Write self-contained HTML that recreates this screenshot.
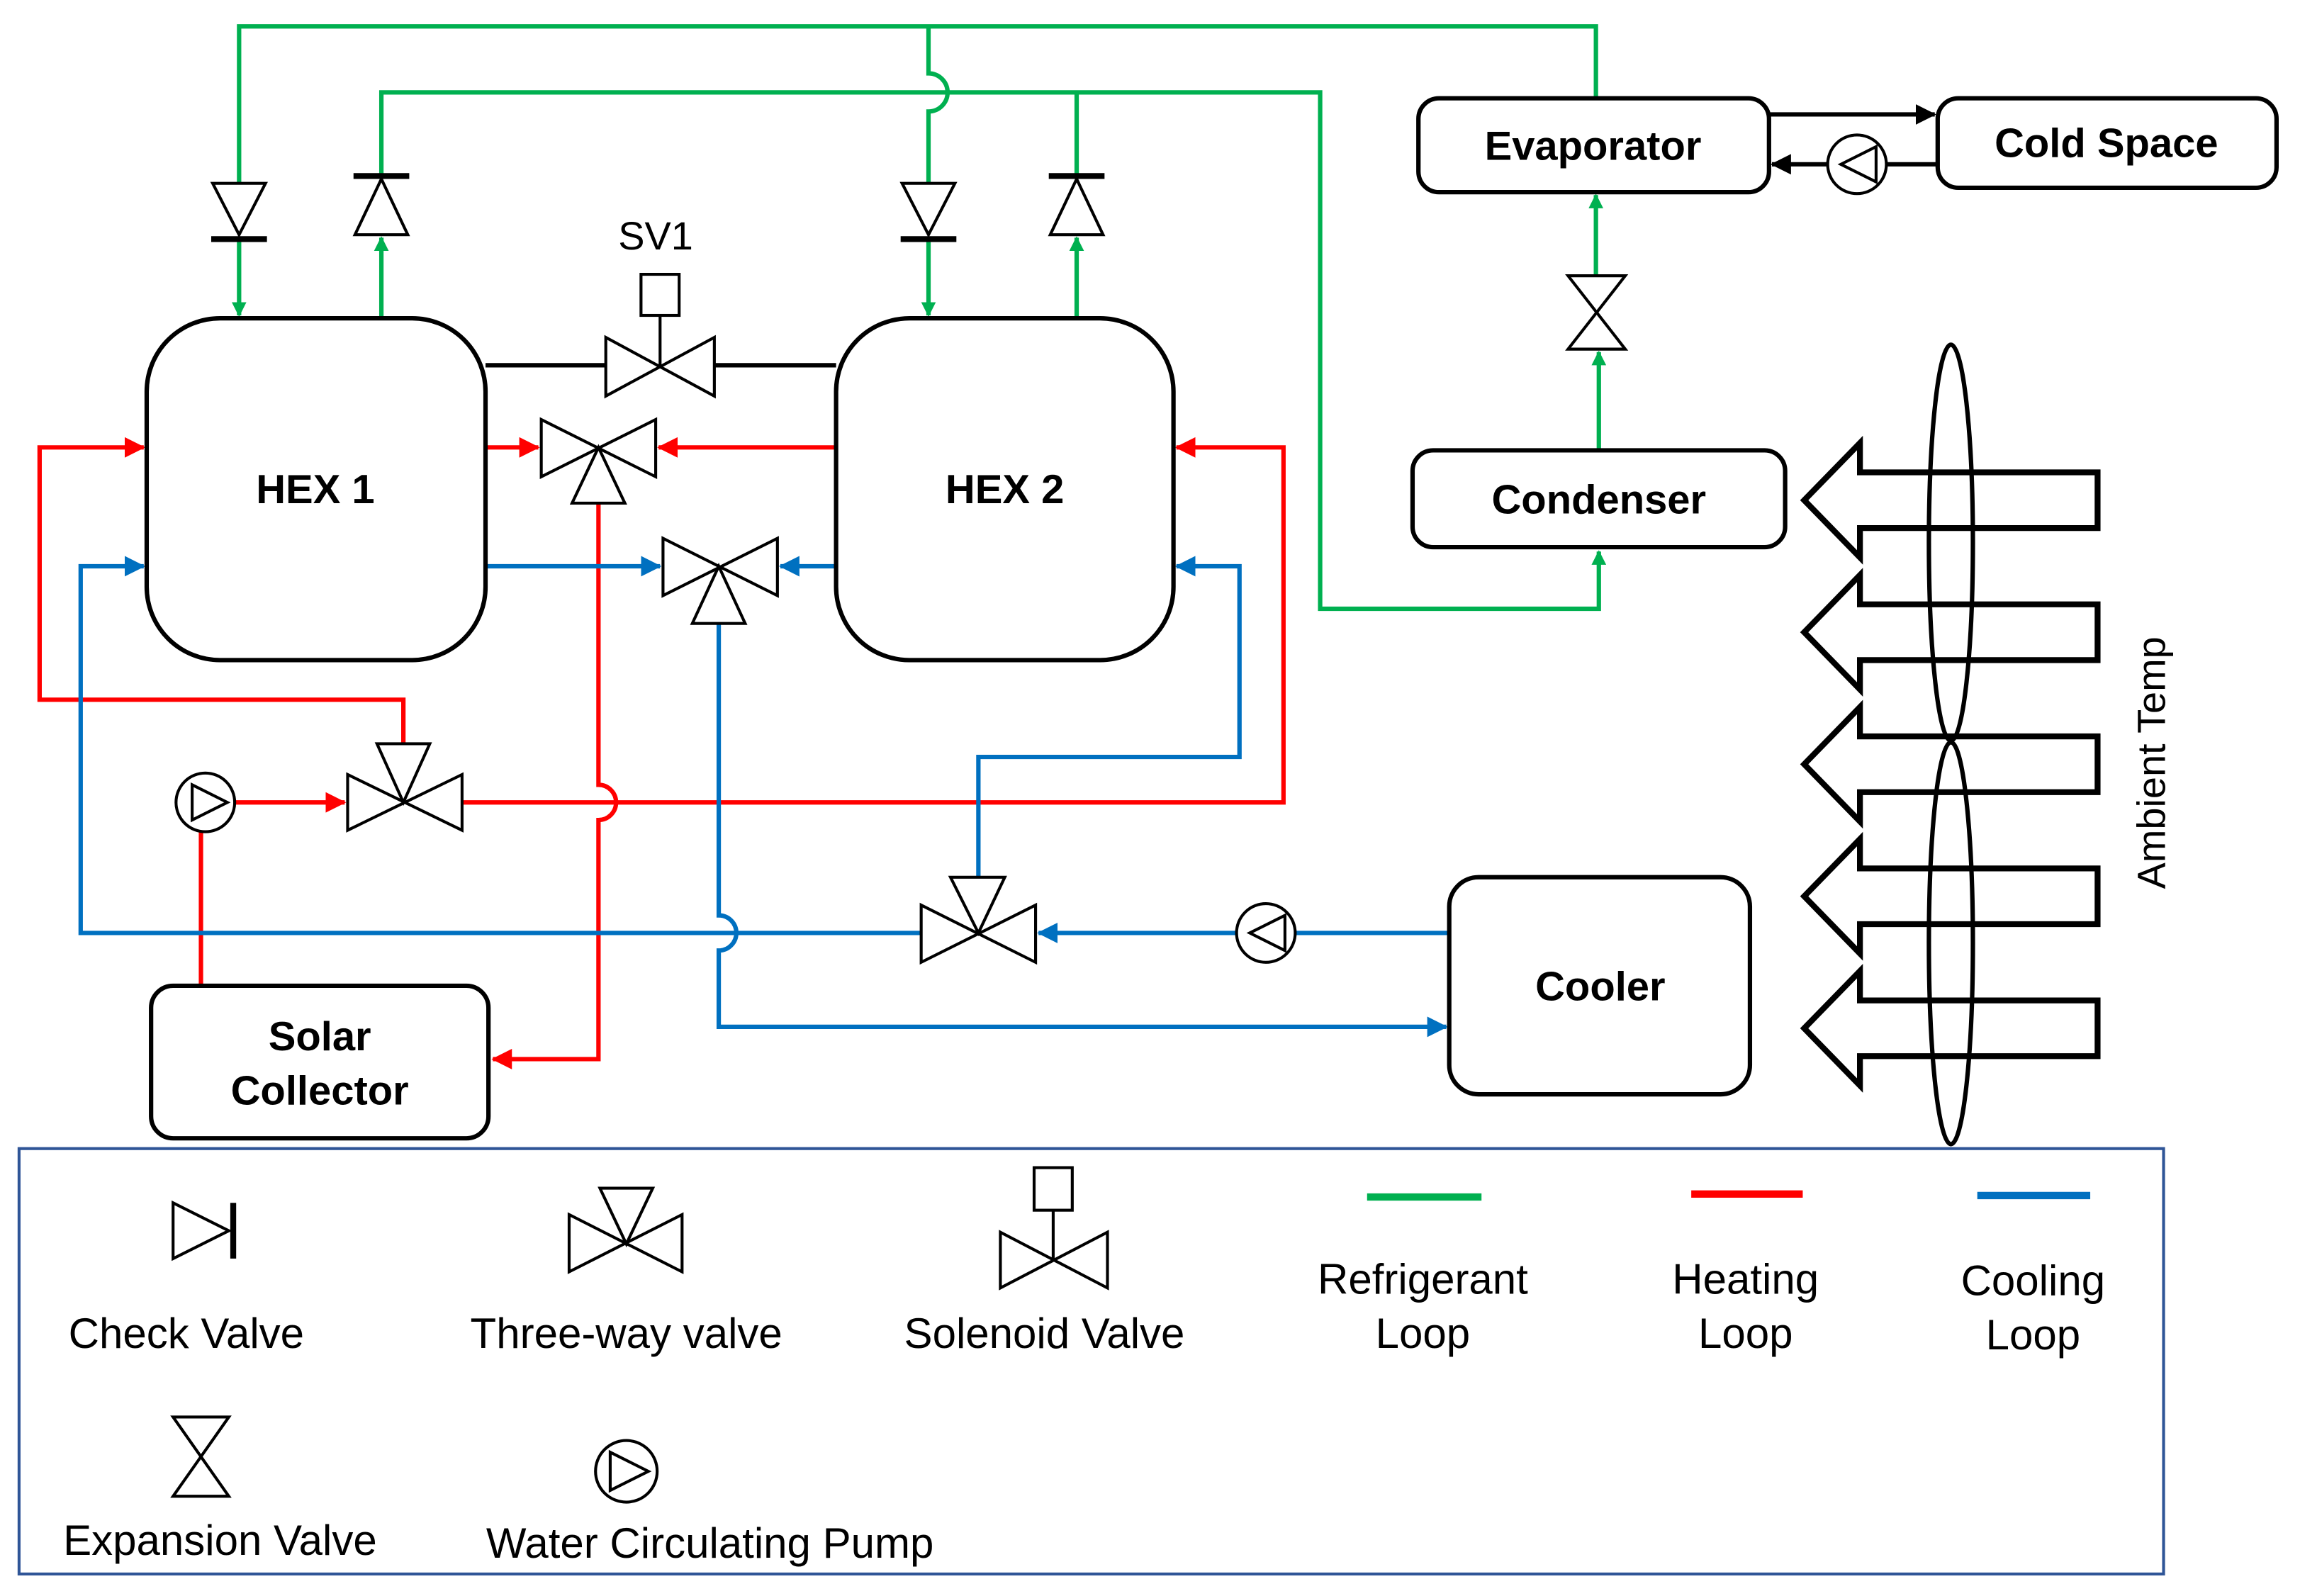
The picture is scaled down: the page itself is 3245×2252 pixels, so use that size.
<!DOCTYPE html>
<html><head><meta charset="utf-8"><style>
html,body{margin:0;padding:0;background:#fff;}
svg{display:block;}
text{font-family:"Liberation Sans",Arial,sans-serif;}
</style></head><body>
<svg width="3245" height="2252" viewBox="0 0 1568 1088" preserveAspectRatio="none" xmlns="http://www.w3.org/2000/svg">
<defs>
<marker id="ag" markerWidth="10" markerHeight="10" refX="9" refY="5" orient="auto" markerUnits="userSpaceOnUse" viewBox="0 0 10 10"><path d="M0,0 L10,5 L0,10z" fill="#00b050"/></marker>
<marker id="ar" markerWidth="14" markerHeight="14" refX="13" refY="7" orient="auto" markerUnits="userSpaceOnUse" viewBox="0 0 14 14"><path d="M0,0 L14,7 L0,14z" fill="#ff0000"/></marker>
<marker id="ab" markerWidth="14" markerHeight="14" refX="13" refY="7" orient="auto" markerUnits="userSpaceOnUse" viewBox="0 0 14 14"><path d="M0,0 L14,7 L0,14z" fill="#0070c0"/></marker>
<marker id="ak" markerWidth="14" markerHeight="14" refX="13" refY="7" orient="auto" markerUnits="userSpaceOnUse" viewBox="0 0 14 14"><path d="M0,0 L14,7 L0,14z" fill="#000"/></marker>
</defs>
<g fill="none" stroke-width="3">
<g stroke="#00b050">
<path d="M163,125 V18 H1088 V68"/>
<path d="M163,163 V215" marker-end="url(#ag)"/>
<path d="M260,120 V63 H900 V415 H1090 V376" marker-end="url(#ag)"/>
<path d="M260,217 V162" marker-end="url(#ag)"/>
<path d="M633,18 V50 A13,13 0 0 1 633,76 V125"/>
<path d="M633,163 V215" marker-end="url(#ag)"/>
<path d="M734,63 V120"/>
<path d="M734,217 V162" marker-end="url(#ag)"/>
<path d="M1090,307 V240" marker-end="url(#ag)"/>
<path d="M1088,188 V133" marker-end="url(#ag)"/>
</g>
<g stroke="#ff0000">
<path d="M331,305 H367" marker-end="url(#ar)"/>
<path d="M570,305 H449" marker-end="url(#ar)"/>
<path d="M408,343 V535 A12,12 0 0 1 408,559 V722 H336" marker-end="url(#ar)"/>
<path d="M275,507 V477 H27 V305 H98" marker-end="url(#ar)"/>
<path d="M160,547 H235" marker-end="url(#ar)"/>
<path d="M315,547 H875 V305 H802" marker-end="url(#ar)"/>
<path d="M137,567 V672"/>
</g>
<g stroke="#0070c0">
<path d="M331,386 H450" marker-end="url(#ab)"/>
<path d="M570,386 H532" marker-end="url(#ab)"/>
<path d="M490,425 V624 A12,12 0 0 1 490,648 V700 H986" marker-end="url(#ab)"/>
<path d="M628,636 H55 V386 H98" marker-end="url(#ab)"/>
<path d="M667,598 V516 H845 V386 H802" marker-end="url(#ab)"/>
<path d="M988,636 H883"/>
<path d="M843,636 H708" marker-end="url(#ab)"/>
</g>
<g stroke="#000">
<path d="M331,249 H413 M487,249 H570"/>
<path d="M1206,78 H1319" marker-end="url(#ak)"/>
<path d="M1321,112 H1286 M1246,112 H1208" marker-end="url(#ak)"/>
</g>
</g>

<g fill="#fff" stroke="#000" stroke-width="3">
<rect x="100" y="217" width="231" height="233" rx="50"/>
<rect x="570" y="217" width="230" height="233" rx="50"/>
<rect x="103" y="672" width="230" height="104" rx="15"/>
<rect x="988" y="598" width="205" height="148" rx="20"/>
<rect x="967" y="67" width="239" height="64" rx="14"/>
<rect x="1321" y="67" width="231" height="61" rx="14"/>
<rect x="963" y="307" width="254" height="66" rx="14"/>
</g>

<g fill="#fff" stroke="#000" stroke-width="2">
<path d="M145,125 H181 L163,160z"/><path d="M144,163 H182" stroke-width="4"/>
<path d="M242,160 H278 L260,122z"/><path d="M241,120 H279" stroke-width="4"/>
<path d="M615,125 H651 L633,160z"/><path d="M614,163 H652" stroke-width="4"/>
<path d="M716,160 H752 L734,122z"/><path d="M715,120 H753" stroke-width="4"/>
<path d="M413,230 L487,270 V230 L413,270z"/><path d="M450,249 V215"/><rect x="437" y="187" width="26" height="28"/>
<path d="M369,286 L447,325 V286 L369,325z"/><path d="M408,305 L426,343 H390z"/>
<path d="M452,367 L530,406 V367 L452,406z"/><path d="M490,386 L508,425 H472z"/>
<path d="M237,528 L315,566 V528 L237,566z"/><path d="M275,547 L293,507 H257z"/>
<path d="M628,617 L706,656 V617 L628,656z"/><path d="M667,636 L685,598 H648z"/>
<path d="M1069,188 H1108 L1069,238 H1108z"/>
<circle cx="140" cy="547" r="20"/><path d="M131,535 L155,547 L131,559z" fill="none"/>
<circle cx="863" cy="636" r="20"/><path d="M876,624 L852,636 L876,648z" fill="none"/>
<circle cx="1266" cy="112" r="20"/><path d="M1279,100 L1255,112 L1279,124z" fill="none"/>
</g>

<g fill="#fff" stroke="#000" stroke-width="4">
<path d="M1430,322 H1268 V302 L1230,341 L1268,380 V360 H1430z"/>
<path d="M1430,412 H1268 V392 L1230,431 L1268,470 V450 H1430z"/>
<path d="M1430,502 H1268 V482 L1230,521 L1268,560 V540 H1430z"/>
<path d="M1430,592 H1268 V572 L1230,611 L1268,650 V630 H1430z"/>
<path d="M1430,682 H1268 V662 L1230,701 L1268,740 V720 H1430z"/>
</g>
<g fill="none" stroke="#000" stroke-width="3">
<ellipse cx="1330" cy="370" rx="15" ry="135"/>
<ellipse cx="1330" cy="643" rx="15" ry="137"/>
</g>
<text x="1476" y="520" font-size="27" text-anchor="middle" transform="rotate(-90 1476 520)">Ambient Temp</text>

<g font-weight="bold" font-size="28" text-anchor="middle" fill="#000">
<text x="215" y="343">HEX 1</text>
<text x="685" y="343">HEX 2</text>
<text x="218" y="716">Solar</text>
<text x="218" y="753">Collector</text>
<text x="1091" y="682">Cooler</text>
<text x="1086" y="109">Evaporator</text>
<text x="1436" y="107">Cold Space</text>
<text x="1090" y="350">Condenser</text>
</g>
<text x="447" y="170" font-size="27" text-anchor="middle">SV1</text>

<rect x="13" y="783" width="1462" height="290" fill="none" stroke="#2f5597" stroke-width="2"/>
<g fill="#fff" stroke="#000" stroke-width="2">
<path d="M118,820 V858 L156,839z"/><path d="M159,820 V858" stroke-width="4"/>
<path d="M388,828 L465,867 V828 L388,867z"/><path d="M427,848 L445,810 H409z"/>
<path d="M682,840 L755,878 V840 L682,878z"/><path d="M718,859 V825"/><rect x="705" y="796" width="26" height="29"/>
<path d="M118,966 H156 L118,1020 H156z"/>
<circle cx="427" cy="1003" r="21"/><path d="M416,990 L442,1003 L416,1016z" fill="none"/>
</g>
<path d="M932,816 H1010" stroke="#00b050" stroke-width="5"/>
<path d="M1153,814 H1229" stroke="#ff0000" stroke-width="5"/>
<path d="M1348,815 H1425" stroke="#0070c0" stroke-width="5"/>
<g font-size="29" text-anchor="middle" fill="#000">
<text x="127" y="919">Check Valve</text>
<text x="427" y="919">Three-way valve</text>
<text x="712" y="919">Solenoid Valve</text>
<text x="970" y="882">Refrigerant</text><text x="970" y="919">Loop</text>
<text x="1190" y="882">Heating</text><text x="1190" y="919">Loop</text>
<text x="1386" y="883">Cooling</text><text x="1386" y="920">Loop</text>
<text x="150" y="1060">Expansion Valve</text>
<text x="484" y="1062">Water Circulating Pump</text>
</g>
</svg>
</body></html>
